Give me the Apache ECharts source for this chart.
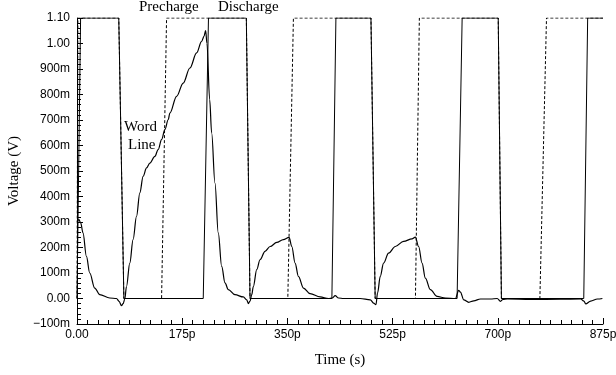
<!DOCTYPE html>
<html>
<head>
<meta charset="utf-8">
<script src="https://cdn.jsdelivr.net/npm/echarts@6.0.0/dist/echarts.min.js"></script>
<style>
  html, body { margin: 0; padding: 0; background: #fff; }
  #chart { width: 616px; height: 375px; }
</style>
</head>
<body>
<div id="chart"></div>
<script>
// time in ps, voltage in V
const xTickLabels = ['0.00', '175p', '350p', '525p', '700p', '875p']
const yTickLabels = ['\u2212100m', '0.00', '100m', '200m', '300m', '400m', '500m', '600m', '700m', '800m', '900m', '1.00', '1.10']

// discharge (solid square wave)
const solidTime = [0, 6, 69.5, 78, 210, 218.7, 281.7, 287.8, 424, 430.7, 489, 496, 632.3, 640.7, 700.7, 706, 843, 849.5, 875]
const solidVolt = [0, 1.1, 1.1, 0, 0, 1.1, 1.1, 0, 0, 1.1, 1.1, 0, 0, 1.1, 1.1, 0, 0, 1.1, 1.1]

// precharge (dashed square wave)
const dashTime = [0, 1.5, 69.5, 78, 140.7, 149, 281.7, 287.8, 350.7, 360, 489, 496, 563, 569.5, 700.7, 706, 770, 781, 875]
const dashVolt = [0, 1.1, 1.1, 0, 0, 1.1, 1.1, 0, 0, 1.1, 1.1, 0, 0, 1.1, 1.1, 0, 0, 1.1, 1.1]

// word line
const wordTime = [0, 3.3, 6.2, 10, 15.7, 21.2, 29.5, 37.8, 54.5, 65.7, 70, 74, 76.7, 79.5, 82.3, 87.8, 93.3, 99, 104.5, 110,
  115.7, 121.2, 129.5, 135, 140.7, 146.2, 151.7, 154.5, 165.7, 176.7, 187.8, 199, 207.3, 211.2, 214, 216.2, 220.7, 224, 229.5, 235,
  240.7, 246.2, 251.7, 262.8, 276.7, 282.3, 285, 287.8, 290.7, 293.3, 299, 304.5, 312.8, 321.2, 332.3, 343.3, 352.8, 357.3, 362.8, 368.3,
  376.7, 387.8, 404.5, 418.3, 424.5, 429.5, 435, 443.3, 471, 488, 493.3, 497.3, 500, 504.5, 510, 518.3, 529.5, 543.3, 557.3, 562.8,
  568.3, 574, 579.5, 587.8, 599, 612.8, 629.5, 635, 637.8, 643.3, 651.7, 660, 671.2, 688, 699, 704.5, 708.3, 715.7, 754.5, 804.5,
  837.8, 843.3, 846.2, 854.5, 865.7, 874]
const wordVolt = [0.302, 0.309, 0.296, 0.257, 0.165, 0.100, 0.041, 0.015, 0.002, 0.000, -0.011, -0.028, -0.020, -0.002, 0.047, 0.139, 0.231, 0.322, 0.414, 0.479,
  0.512, 0.531, 0.557, 0.584, 0.623, 0.662, 0.701, 0.727, 0.793, 0.845, 0.904, 0.963, 1.008, 1.028, 1.051, 1.000, 0.780, 0.649, 0.453, 0.257,
  0.126, 0.061, 0.035, 0.015, 0.006, -0.005, -0.020, -0.010, 0.015, 0.047, 0.113, 0.152, 0.185, 0.204, 0.220, 0.231, 0.240, 0.204, 0.139, 0.087,
  0.041, 0.019, 0.006, 0.000, 0.002, 0.011, 0.002, 0.000, 0.000, -0.005, -0.018, -0.024, 0.022, 0.087, 0.139, 0.178, 0.204, 0.224, 0.234, 0.241,
  0.204, 0.139, 0.080, 0.035, 0.008, 0.002, 0.000, 0.032, 0.025, -0.005, -0.015, -0.009, -0.002, -0.002, 0.000, -0.011, -0.004, -0.002, -0.004, -0.003,
  -0.002, -0.010, -0.021, -0.010, -0.002, 0.000]

const pairs = (xs, ys) => xs.map((x, i) => [x, ys[i]])

const labelFont = 'Liberation Sans'
const serif = 'Liberation Serif'

const chart = echarts.init(document.getElementById('chart'), null, { renderer: 'canvas' })

const option = {
  animation: false,
  backgroundColor: '#fff',
  grid: { left: 77, right: 13, top: 18, bottom: 51, containLabel: false, outerBoundsMode: 'none' },
  xAxis: {
    type: 'value',
    min: 0,
    max: 875,
    interval: 175,
    name: 'Time (s)',
    nameLocation: 'middle',
    nameGap: 29,
    nameTextStyle: { fontFamily: serif, fontSize: 15, color: '#000' },
    axisLine: { onZero: false, lineStyle: { color: '#000', width: 1 } },
    axisTick: { show: true, inside: true, length: 6, lineStyle: { color: '#000', width: 1 } },
    minorTick: { show: true, splitNumber: 10, length: 4, lineStyle: { color: '#000', width: 1 } },
    splitLine: { show: false },
    axisLabel: {
      color: '#000', fontFamily: labelFont, fontSize: 12, margin: 5,
      formatter: (v) => xTickLabels[Math.round(v / 175)]
    }
  },
  yAxis: {
    type: 'value',
    min: -0.1,
    max: 1.1,
    interval: 0.1,
    name: 'Voltage (V)',
    nameLocation: 'middle',
    nameGap: 55,
    nameTextStyle: { fontFamily: serif, fontSize: 15, color: '#000' },
    axisLine: { show: true, onZero: false, lineStyle: { color: '#000', width: 1 } },
    axisTick: { show: true, inside: true, length: 6, lineStyle: { color: '#000', width: 1 } },
    minorTick: { show: true, splitNumber: 5, length: 4, lineStyle: { color: '#000', width: 1 } },
    splitLine: { show: false },
    axisLabel: {
      color: '#000', fontFamily: labelFont, fontSize: 12, margin: 7,
      formatter: (v) => yTickLabels[Math.round((v + 0.1) / 0.1)]
    }
  },
  series: [
    {
      name: 'Precharge',
      type: 'line',
      data: pairs(dashTime, dashVolt),
      symbol: 'none',
      lineStyle: { color: '#000', width: 1, type: [3, 2] },
      z: 2
    },
    {
      name: 'Discharge',
      type: 'line',
      data: pairs(solidTime, solidVolt),
      symbol: 'none',
      lineStyle: { color: '#000', width: 1 },
      z: 3
    },
    {
      name: 'Word Line',
      type: 'line',
      data: pairs(wordTime, wordVolt),
      symbol: 'none',
      smooth: 0.35,
      smoothMonotone: 'x',
      lineStyle: { color: '#000', width: 1.2 },
      z: 4
    }
  ],
  graphic: [
    { type: 'text', left: 139, top: 0, style: { text: 'Precharge', font: '15px "Liberation Serif"', fill: '#000' } },
    { type: 'text', left: 218, top: 0, style: { text: 'Discharge', font: '15px "Liberation Serif"', fill: '#000' } },
    { type: 'text', left: 124, top: 120, style: { text: 'Word', font: '15px "Liberation Serif"', fill: '#000' } },
    { type: 'text', left: 128, top: 138, style: { text: 'Line', font: '15px "Liberation Serif"', fill: '#000' } }
  ]
}

chart.setOption(option)
</script>
</body>
</html>
